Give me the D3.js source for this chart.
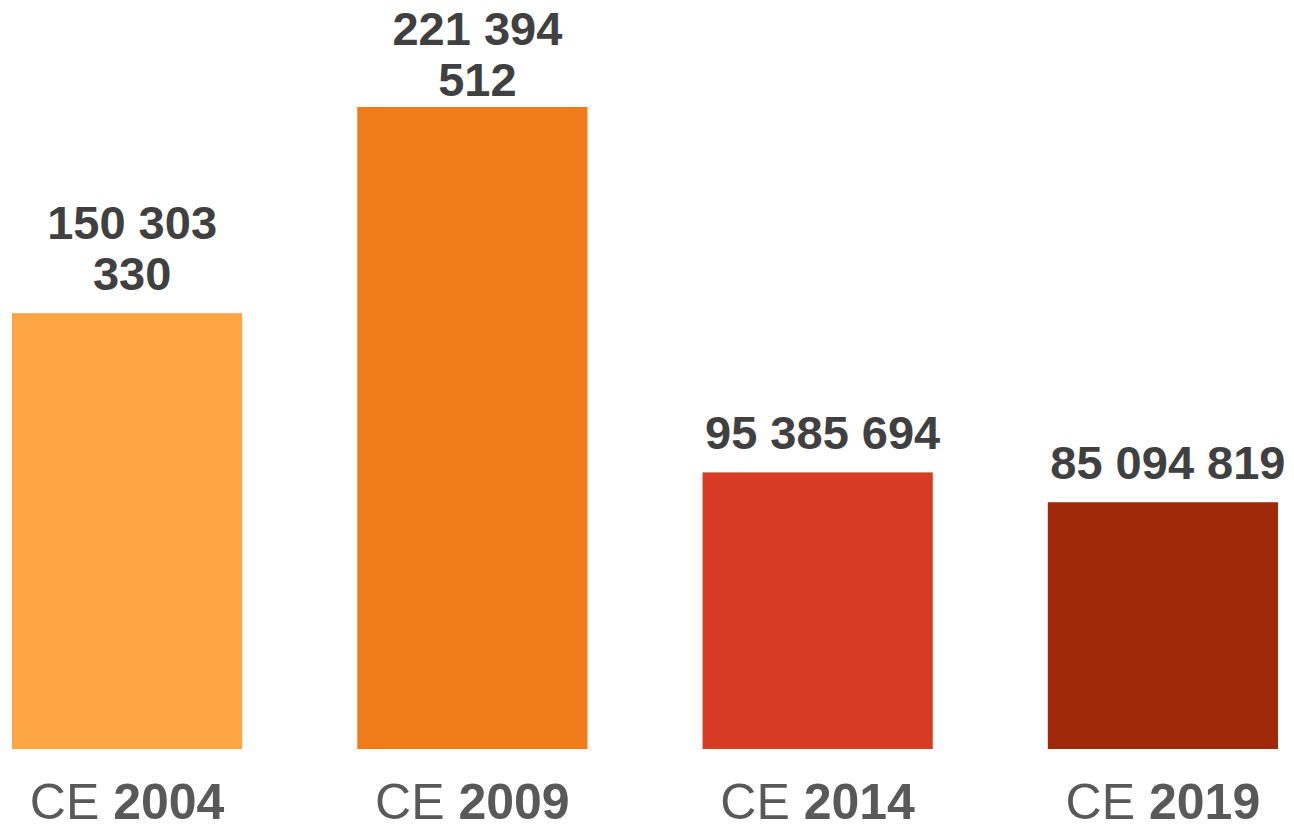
<!DOCTYPE html>
<html>
<head>
<meta charset="utf-8">
<script src="https://cdn.jsdelivr.net/npm/d3@7"></script>
<style>
html,body{margin:0;padding:0;background:#fff;overflow:hidden;}
svg{display:block;font-family:"Liberation Sans",Arial,sans-serif;}
</style>
</head>
<body>
<svg id="chart" width="1294" height="824"></svg>
<script>
const categories = ["2004", "2009", "2014", "2019"];
const prefixes = ["CE", "CE", "CE", "CE"];
const values = [150303330, 221394512, 95385694, 85094819];
const colors = ["#FDA543", "#F07C19", "#D73B23", "#A0290A"];

const svg = d3.select("#chart");
const baseY = 749;

const x = d3.scaleBand().domain(categories).range([12, 1278]).paddingInner(0.3333).paddingOuter(0);
const y = d3.scaleLinear().domain([0, 250000000]).range([baseY, baseY - 2.8998 * 250]);

svg.selectAll("rect.bar").data(values).join("rect")
  .attr("class", "bar")
  .attr("x", (d, i) => x(categories[i]))
  .attr("width", x.bandwidth())
  .attr("y", d => y(d))
  .attr("height", d => y(0) - y(d))
  .attr("fill", (d, i) => colors[i]);

const fmt = v => d3.format(",")(v).replace(/,/g, " ");
const fontSize = 47, lineH = 51, maxW = 250, gap = 23, minFirst = 45;

values.forEach((v, i) => {
  const cx = x(categories[i]) + x.bandwidth() / 2 + 5;
  const str = fmt(v);
  const t = svg.append("text")
    .attr("text-anchor", "middle")
    .attr("font-size", fontSize)
    .attr("font-weight", "bold")
    .attr("fill", "#404040")
    .text(str);
  let lines = [str];
  if (t.node().getComputedTextLength() > maxW) {
    const parts = str.split(" ");
    lines = [parts.slice(0, parts.length - 1).join(" "), parts[parts.length - 1]];
  }
  t.text(null);
  let first = y(v) - gap - (lines.length - 1) * lineH;
  first = Math.max(first, minFirst);
  lines.forEach((ln, j) => {
    t.append("tspan").attr("x", cx).attr("y", first + j * lineH).text(ln);
  });
});

categories.forEach((c, i) => {
  const cx = x(c) + x.bandwidth() / 2;
  const t = svg.append("text")
    .attr("x", cx).attr("y", 819)
    .attr("text-anchor", "middle")
    .attr("font-size", 50)
    .attr("fill", "#595959");
  t.append("tspan").text(prefixes[i] + " ");
  t.append("tspan").attr("font-weight", "bold").text(c);
});
</script>
</body>
</html>
